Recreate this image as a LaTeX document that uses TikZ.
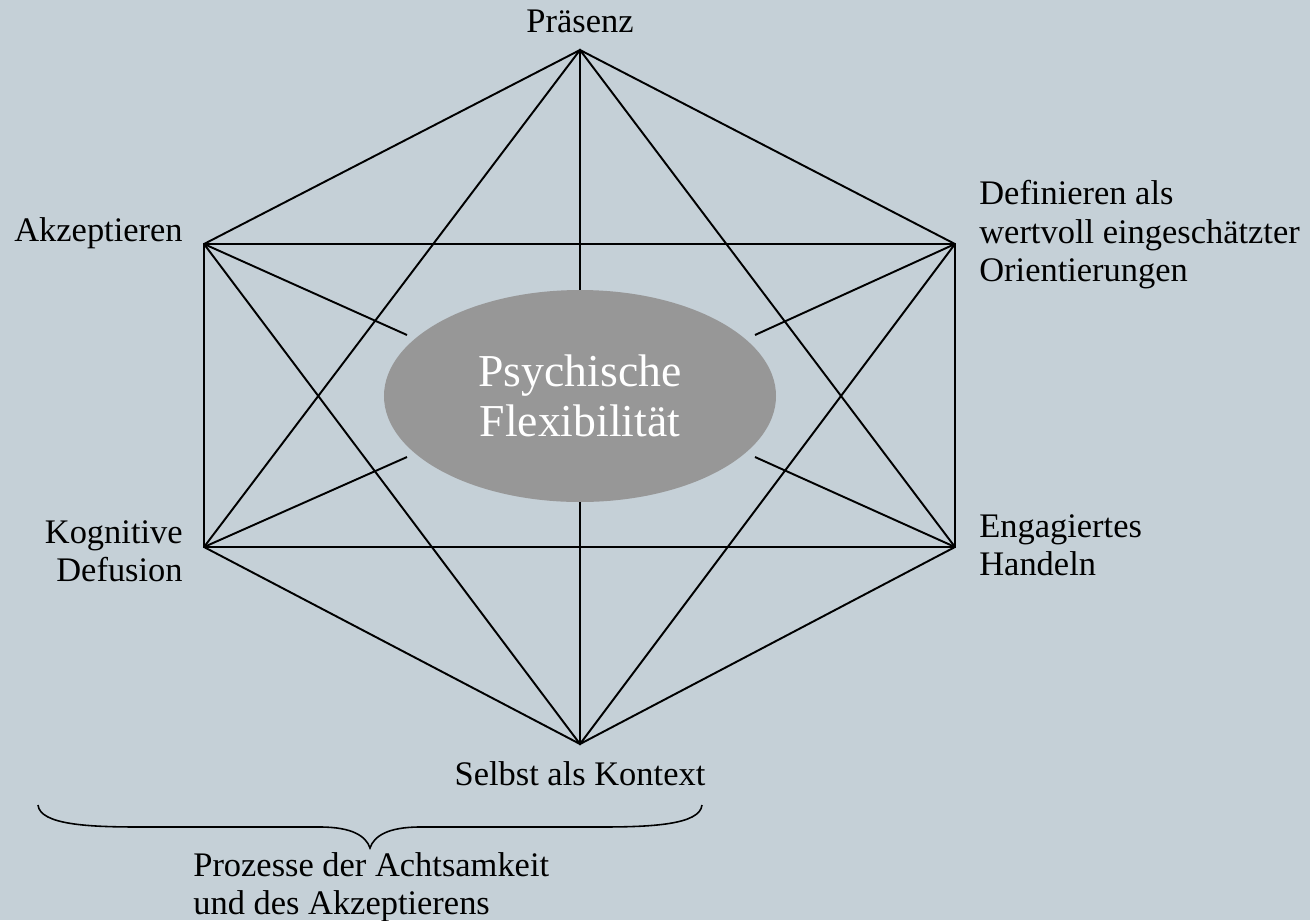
\documentclass[tikz,border=0pt]{standalone}
\usepackage{fontspec}
\setmainfont{Liberation Serif}
\usepackage{tikz}
\usetikzlibrary{shapes.geometric}

\definecolor{bgblue}{HTML}{C5D0D7}
\definecolor{ellgray}{HTML}{979797}

\tikzset{
  edge/.style={line width=1.1pt, black},
  lbl/.style={inner sep=0pt, font=\fontsize{19.6}{21.9}\selectfont},
  core/.style={ellipse, fill=ellgray, draw=none, text=white, align=center,
    minimum width=78.4mm, minimum height=42.4mm, inner sep=0pt,
    font=\fontsize{26}{28.5}\selectfont}
}

\begin{document}
\begin{tikzpicture}[x=0.2mm,y=-0.2mm] % pixel grid of the sketch
\fill[bgblue] (0,0) rectangle (1310,920);
\useasboundingbox (0,0) rectangle (1310,920);

% corners of the hexagon
\coordinate (pres) at (580,50);
\coordinate (akz) at (204,244);
\coordinate (def) at (955,244);
\coordinate (kog) at (204,547);
\coordinate (eng) at (955,547);
\coordinate (selbst) at (580,744);

% free ends of the spokes
\coordinate (ul) at (407,335);
\coordinate (ur) at (755,335);
\coordinate (ll) at (407,457);
\coordinate (lr) at (755,457);

\node[core] (psy) at (580,396) {Psychische\\Flexibilität};

% hexagon, rectangle and the two triangles
\draw[edge] (pres) -- (def) -- (eng) -- (selbst) -- (kog) -- (akz) -- cycle;
\draw[edge] (akz) -- (def) -- (eng) -- (kog) -- cycle;
\draw[edge] (kog) -- (pres) -- (eng);
\draw[edge] (akz) -- (selbst) -- (def);

% spokes towards the centre
\draw[edge] (pres) -- (psy.north);
\draw[edge] (selbst) -- (psy.south);
\foreach \a/\b in {akz/ul, def/ur, kog/ll, eng/lr} {
\draw[edge] (\a) -- (\b);
}

% labels
\node[lbl, anchor=base] (tpres) at (580,32) {Präsenz};
\node[lbl, anchor=base east] (takz) at (183,241) {Akzeptieren};
\node[lbl, anchor=north west, align=left] (tdef) at (979,180)
  {Definieren als\\wertvoll eingeschätzter\\Orientierungen};
\node[lbl, anchor=north east, align=right] (tkog) at (183,520)
  {Kognitive\\Defusion};
\node[lbl, anchor=north west, align=left] (teng) at (979,514)
  {Engagiertes\\Handeln};
\node[lbl, anchor=base] (tselbst) at (580,785) {Selbst als Kontext};

% brace
\draw[line width=0.9pt] (38,805) .. controls (40,825) and (90,827) .. (140,827)
  -- (320,827) .. controls (352,827) and (366,836) .. (370,848)
  .. controls (374,836) and (388,827) .. (420,827)
  -- (600,827) .. controls (650,827) and (700,825) .. (702,805);
\node[lbl, anchor=north west, align=left] (tproz) at (193,852)
  {Prozesse der Achtsamkeit\\und des Akzeptierens};
\end{tikzpicture}
\end{document}
